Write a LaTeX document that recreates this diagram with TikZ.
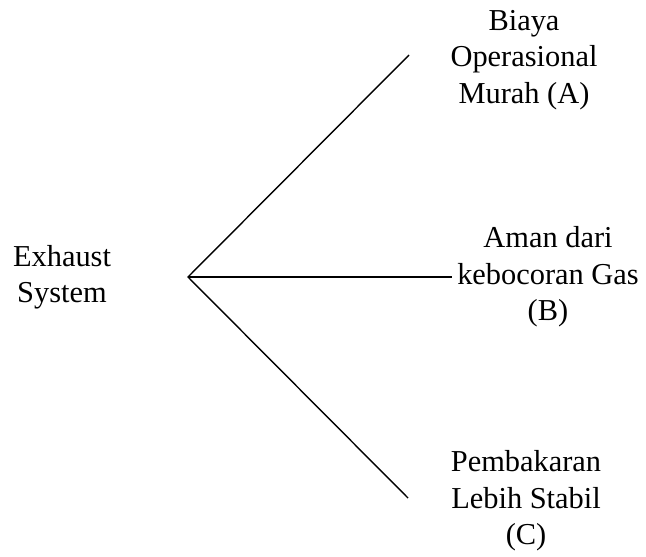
\documentclass[tikz,border=0pt]{standalone}
\usepackage{fontspec}
\setmainfont{Liberation Serif}
\begin{document}
\begin{tikzpicture}[x=0.5pt,y=-0.5pt,
  label/.style={align=center,inner sep=0pt,font=\fontsize{15.2}{18.2}\selectfont},
  branch/.style={line width=0.7pt}]
\useasboundingbox (0,0) rectangle (646,556);
% root and leaf labels
\node[label] (root) at (62,277) {Exhaust\\System};
\node[label] (a) at (524,60) {Biaya\\Operasional\\Murah (A)};
\node[label] (b) at (548,277) {Aman dari\\kebocoran Gas\\(B)};
\node[label] (c) at (526,501) {Pembakaran\\Lebih Stabil\\(C)};
% branch points
\coordinate (fork) at (188,277);
\coordinate (ea) at (409,55);
\coordinate (eb) at (452,277);
\coordinate (ec) at (408,498);
\draw[branch] (ea) -- (fork) -- (ec);
\draw[branch] (fork) -- (eb);
\end{tikzpicture}
\end{document}
